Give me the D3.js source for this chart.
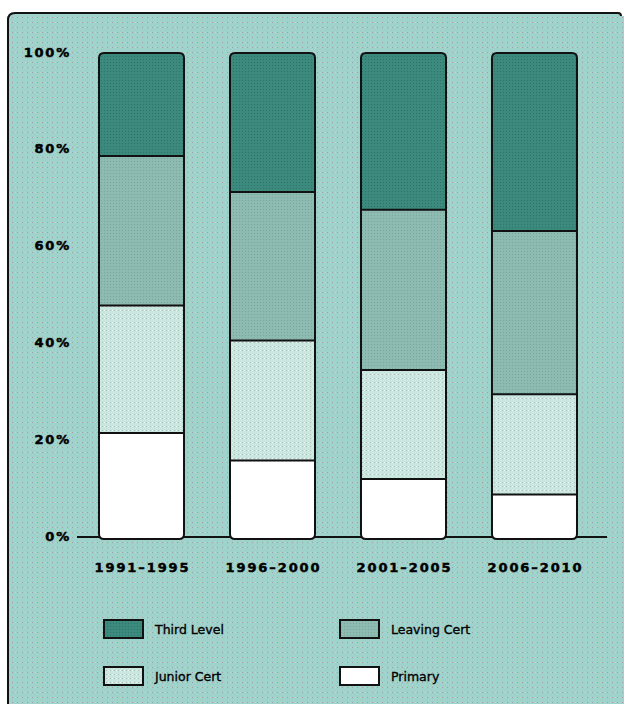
<!DOCTYPE html>
<html><head><meta charset="utf-8">
<script src="https://cdn.jsdelivr.net/npm/d3@7/dist/d3.min.js"></script>
<style>html,body{margin:0;padding:0;background:#fff;}svg{display:block;}</style>
</head><body>
<script>
const periods = ["1991-1995", "1996-2000", "2001-2005", "2006-2010"];
const primary = [21.3, 15.6, 11.8, 8.6];
const juniorCert = [26.3, 24.8, 22.5, 20.7];
const leavingCert = [30.9, 30.7, 33.1, 33.7];
const thirdLevel = [21.5, 28.9, 32.6, 37.0];
const seriesNames = ["Primary", "Junior Cert", "Leaving Cert", "Third Level"];
const yTicks = [0, 20, 40, 60, 80, 100];
const legendOrder = ["Third Level", "Leaving Cert", "Junior Cert", "Primary"];

const W = 624, H = 704;
const svg = d3.select("body").append("svg").attr("width", W).attr("height", H);
const defs = svg.append("defs");

function dotPattern(id, base, dot1, dot2, size) {
  const p = defs.append("pattern").attr("id", id).attr("patternUnits", "userSpaceOnUse")
    .attr("width", size).attr("height", size);
  p.append("rect").attr("width", size).attr("height", size).attr("fill", base);
  p.append("rect").attr("x", 2).attr("y", 2).attr("width", 1).attr("height", 1).attr("fill", dot1);
  if (dot2) p.append("rect").attr("x", 0).attr("y", 2).attr("width", 1).attr("height", 1).attr("fill", dot2);
  return "url(#" + id + ")";
}
const bgFill = dotPattern("bg", "#a0d2cc", "#a49cae", "#b6dcc0", 5);
const colorMap = {
  "Third Level": dotPattern("p3", "#3b8a7d", "#2f7468", null, 3),
  "Leaving Cert": dotPattern("p2", "#8dbab1", "#78a79e", null, 3),
  "Junior Cert": dotPattern("p1", "#c9e6df", "#aab8be", "#e2f6ec", 4),
  "Primary": "#ffffff"
};

// Panel
const px = 8, py = 13, pr = 7;
svg.append("path")
  .attr("d", `M${px},${H + 5} L${px},${py + pr} Q${px},${py} ${px + pr},${py} L${W - 6},${py} Q${W - 3},${py} ${W - 3},${py + 3} L${W + 5},${py + 3} L${W + 5},${H + 5} Z`)
  .attr("fill", bgFill);
svg.append("path")
  .attr("d", `M${px},${H + 5} L${px},${py + pr} Q${px},${py} ${px + pr},${py} L${W - 6},${py} Q${W - 3},${py} ${W - 3},${py + 3}`)
  .attr("fill", "none").attr("stroke", "#111").attr("stroke-width", 2);

// Scales
const y = d3.scaleLinear().domain([0, 100]).range([536, 52]);
const x = d3.scaleBand().domain(periods).range([77, 599]).paddingInner(0.351).paddingOuter(0.168);

const rows = periods.map((p, i) => ({
  period: p, "Primary": primary[i], "Junior Cert": juniorCert[i],
  "Leaving Cert": leavingCert[i], "Third Level": thirdLevel[i]
}));
const stack = d3.stack().keys(seriesNames)(rows);

// Axis baseline
svg.append("line").attr("x1", 77).attr("x2", 607).attr("y1", y(0) + 1).attr("y2", y(0) + 1)
  .attr("stroke", "#111").attr("stroke-width", 2);

// Bars
const r = 5;
function barPath(x0, x1, y0, y1) {
  return `M${x0},${y1 - r} L${x0},${y0 + r} Q${x0},${y0} ${x0 + r},${y0} L${x1 - r},${y0} Q${x1},${y0} ${x1},${y0 + r} L${x1},${y1 - r} Q${x1},${y1} ${x1 - r},${y1} L${x0 + r},${y1} Q${x0},${y1} ${x0},${y1 - r} Z`;
}
periods.forEach((p, i) => {
  const x0 = x(p), x1 = x(p) + x.bandwidth();
  const top = y(100) + 1, bot = y(0) + 3;
  const cid = "clip" + i;
  defs.append("clipPath").attr("id", cid).append("path").attr("d", barPath(x0, x1, top, bot));
  const g = svg.append("g").attr("clip-path", `url(#${cid})`);
  stack.forEach(s => {
    const d = s[i];
    const ya = s.key === "Third Level" ? top - 2 : y(d[1]);
    const yb = s.key === "Primary" ? bot + 2 : y(d[0]);
    g.append("rect").attr("x", x0).attr("width", x1 - x0).attr("y", ya).attr("height", yb - ya)
      .attr("fill", colorMap[s.key]);
  });
  stack.slice(0, 3).forEach(s => {
    g.append("line").attr("x1", x0).attr("x2", x1).attr("y1", y(s[i][1])).attr("y2", y(s[i][1]))
      .attr("stroke", "#111").attr("stroke-width", 2);
  });
  svg.append("path").attr("d", barPath(x0, x1, top, bot)).attr("fill", "none")
    .attr("stroke", "#111").attr("stroke-width", 2);
});

// Y tick labels
svg.append("g").selectAll("text").data(yTicks).join("text")
  .attr("x", 71).attr("y", d => y(d)).attr("dy", "0.36em")
  .attr("text-anchor", "end")
  .attr("font-family", "DejaVu Sans").attr("font-weight", "bold").attr("font-size", 13)
  .attr("letter-spacing", 1.8)
  .attr("stroke", "#000").attr("stroke-width", 0.5)
  .attr("fill", "#000").text(d => d + "%");

// X labels
svg.append("g").selectAll("text").data(periods).join("text")
  .attr("x", d => x(d) + x.bandwidth() / 2 + 1).attr("y", 572)
  .attr("text-anchor", "middle")
  .attr("font-family", "DejaVu Sans").attr("font-weight", "bold").attr("font-size", 13)
  .attr("letter-spacing", 1.9)
  .attr("stroke", "#000").attr("stroke-width", 0.5)
  .attr("fill", "#000").text(d => d.replace("-", "–"));

// Legend
const legPos = [[104, 620], [340, 620], [104, 667], [340, 667]];
legendOrder.forEach((name, i) => {
  const [lx, ly] = legPos[i];
  svg.append("rect").attr("x", lx).attr("y", ly).attr("width", 39).attr("height", 18)
    .attr("fill", colorMap[name]).attr("stroke", "#111").attr("stroke-width", 2);
  svg.append("text").attr("x", lx + 51).attr("y", ly + 9).attr("dy", "0.36em")
    .attr("font-family", "DejaVu Sans").attr("font-size", 12.5)
    .attr("stroke", "#000").attr("stroke-width", 0.35)
    .attr("fill", "#000").text(name);
});
</script>
</body></html>
